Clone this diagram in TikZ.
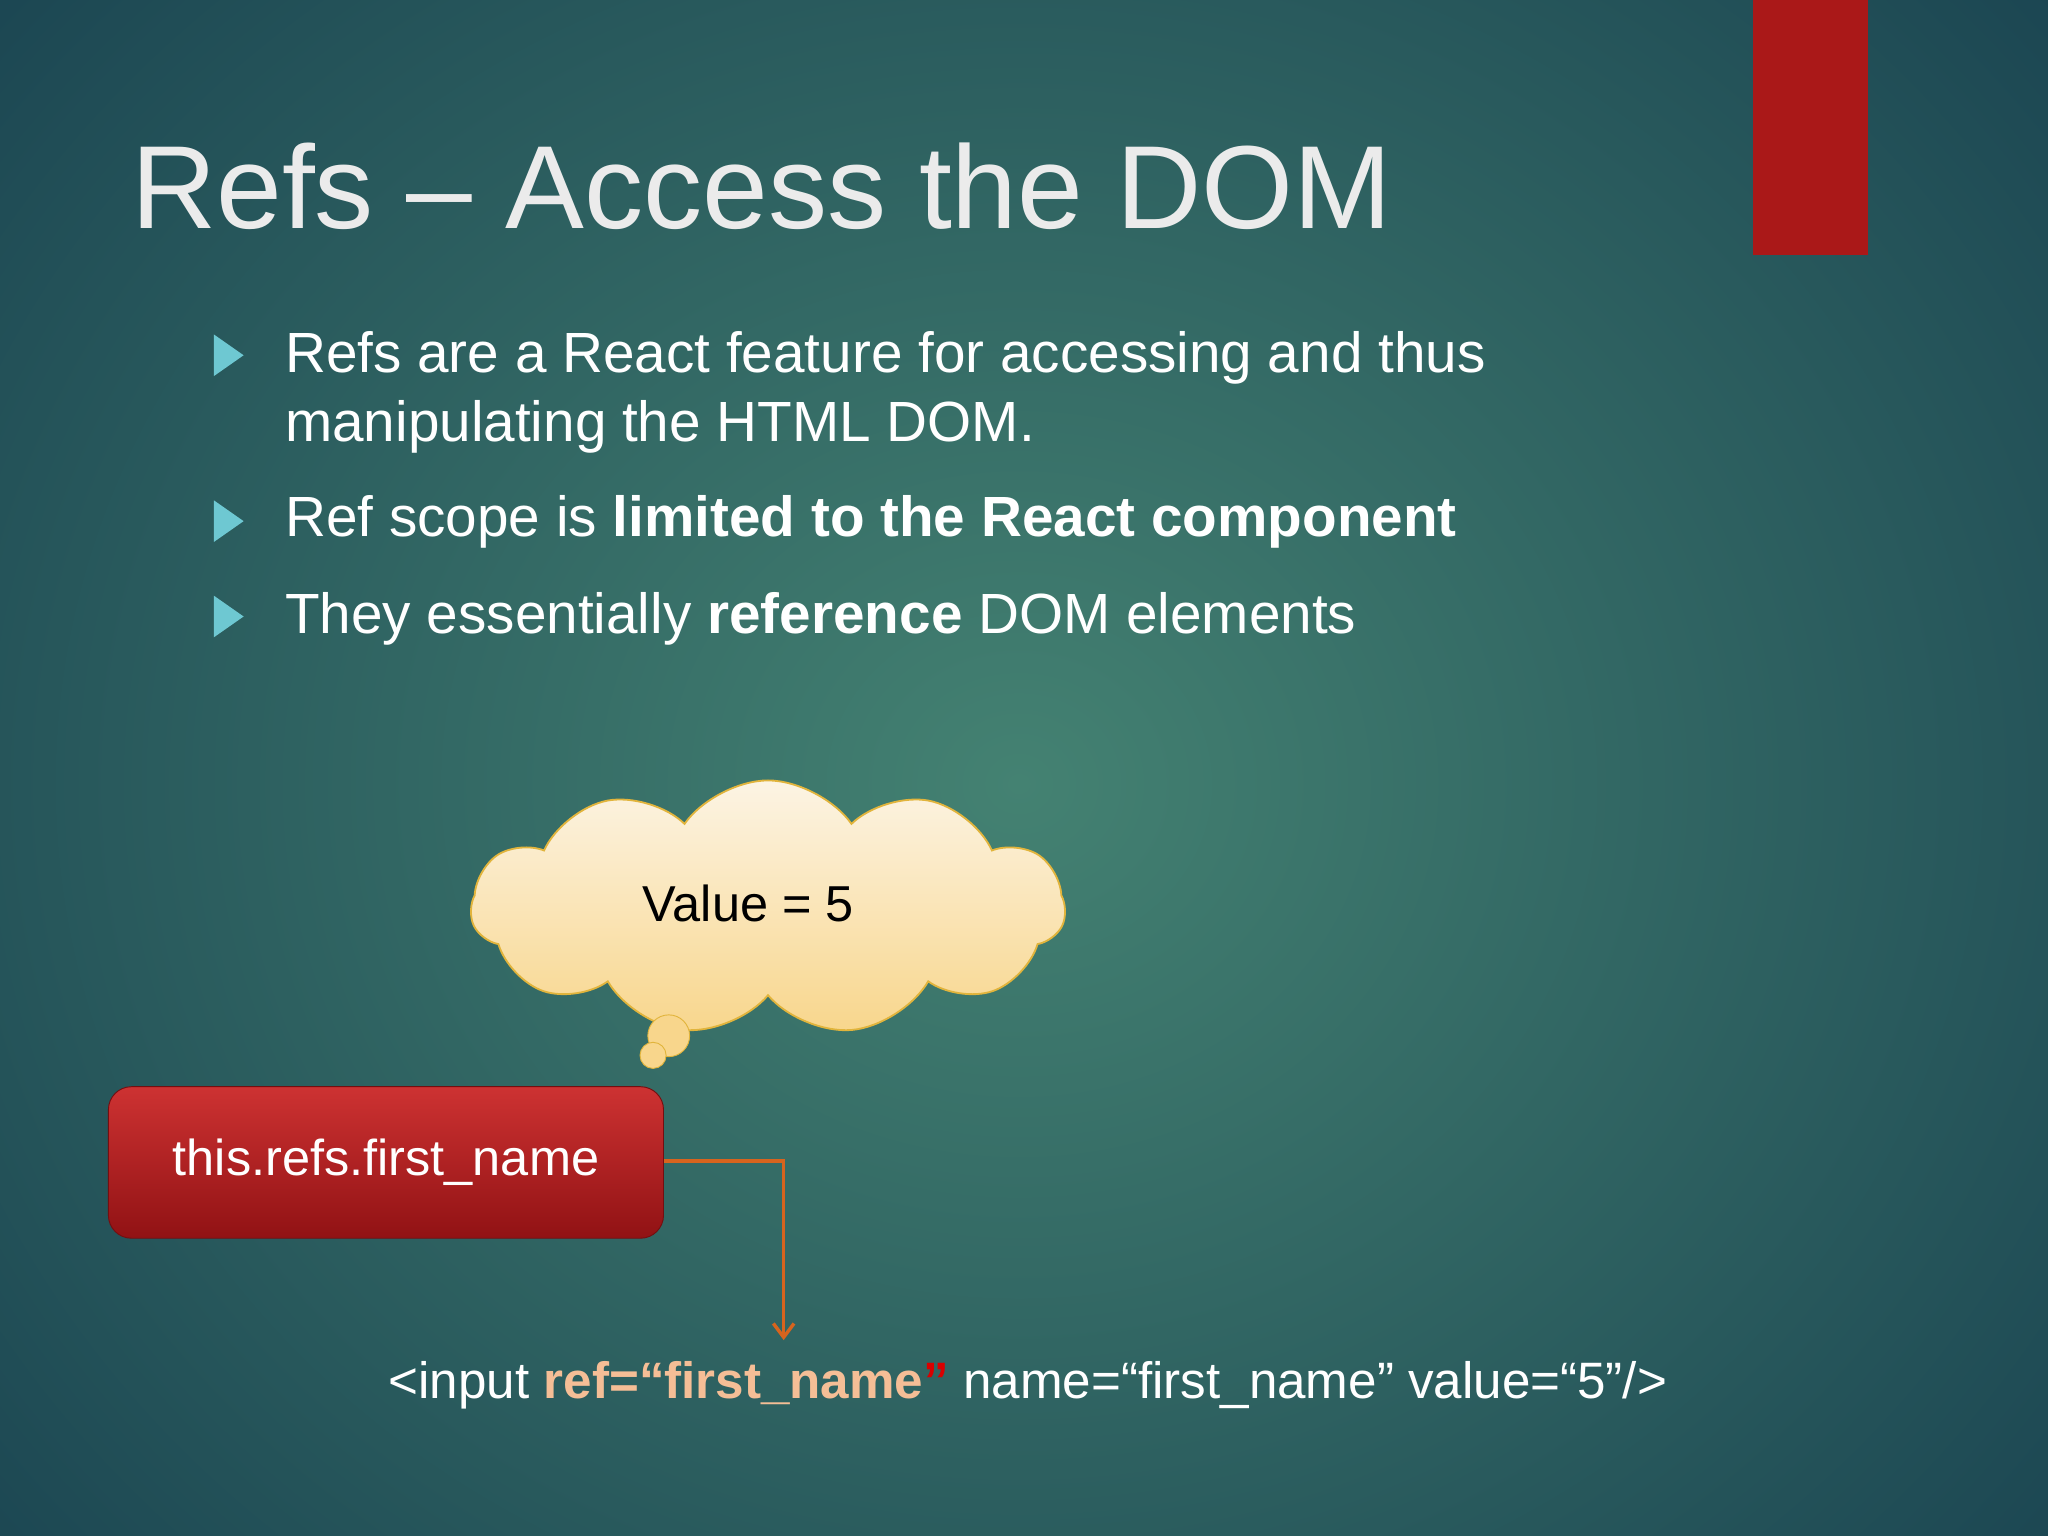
\documentclass[tikz,border=0pt]{standalone}
\usepackage{fontspec}
\setmainfont{Liberation Sans}
\usetikzlibrary{shapes.symbols,shapes.geometric,arrows.meta}
\definecolor{bgin}{RGB}{68,130,114}
\definecolor{bgout}{RGB}{22,62,78}
\definecolor{redbar}{RGB}{170,24,24}
\definecolor{bul}{RGB}{110,200,210}
\definecolor{arr}{RGB}{215,100,30}
\definecolor{peach}{RGB}{245,190,150}
\definecolor{cloudtop}{RGB}{252,244,228}
\definecolor{cloudbot}{RGB}{248,214,140}
\definecolor{cloudline}{RGB}{225,180,60}
\definecolor{boxtop}{RGB}{205,50,50}
\definecolor{boxbot}{RGB}{145,18,20}
\tikzset{
  px/.style={x=0.02cm,y=-0.02cm},
  bullettxt/.style={anchor=base west,text=white,font=\fontsize{24.7}{29}\selectfont,inner sep=0},
  bulletmark/.style={isosceles triangle,fill=bul,minimum height=13pt,minimum width=14pt,inner sep=0pt,isosceles triangle apex angle=70},
}
\begin{document}
\begin{tikzpicture}[px]
\useasboundingbox (0,0) rectangle (1568,1176);
\shade[inner color=bgin,outer color=bgout] (-400,-450) rectangle (1960,1650);
\fill[redbar] (1342,-5) rectangle (1430,195);
\node[anchor=base west,text=white!92!black,font=\fontsize{51.5}{60}\selectfont,inner sep=0] (title) at (100,175) {Refs -- Access the DOM};
\node[bulletmark] (b1) at (172,272) {};
\node[bullettxt] (t1) at (218,285) {Refs are a React feature for accessing and thus};
\node[bullettxt] (t1b) at (218,338) {manipulating the HTML DOM.};
\node[bulletmark] (b2) at (172,399) {};
\node[bullettxt] (t2) at (218,411) {Ref scope is \textbf{limited to the React component}};
\node[bulletmark] (b3) at (172,472) {};
\node[bullettxt] (t3) at (218,485) {They essentially \textbf{reference} DOM elements};
\node[cloud,cloud puffs=11,cloud puff arc=110,aspect=2.3,minimum width=455*0.02cm,minimum height=195*0.02cm,draw=cloudline,top color=cloudtop,bottom color=cloudbot,line width=0.8pt] (cloud) at (588,695) {};
\node[font=\fontsize{22}{24}\selectfont] (val) at (573,692) {Value = 5};
\node[circle,draw=cloudline,fill=cloudbot,minimum size=32*0.02cm,inner sep=0] (p1) at (512,793) {};
\node[circle,draw=cloudline,fill=cloudbot,minimum size=20*0.02cm,inner sep=0] (p2) at (500,808) {};
\node[rounded corners=10pt,top color=boxtop,bottom color=boxbot,draw=boxbot!80!black,minimum width=425*0.02cm,minimum height=116*0.02cm,text=white,font=\fontsize{22}{26}\selectfont] (box) at (295.5,890) {this.refs.first\_name};
\coordinate (corner) at (600,889);
\coordinate (tip) at (600,1026);
\draw[arr,line width=1.5pt,-{Straight Barb[length=6pt,width=9pt]}] (box.east |- corner) -- (corner) -- (tip);
\node[anchor=base,text=white,font=\fontsize{22.3}{24}\selectfont] (code) at (787,1071) {<input \textcolor{peach}{\textbf{ref=“first\_name}}\textcolor{red!85!black}{\textbf{”}} name=“first\_name” value=“5”/>};
\end{tikzpicture}
\end{document}
